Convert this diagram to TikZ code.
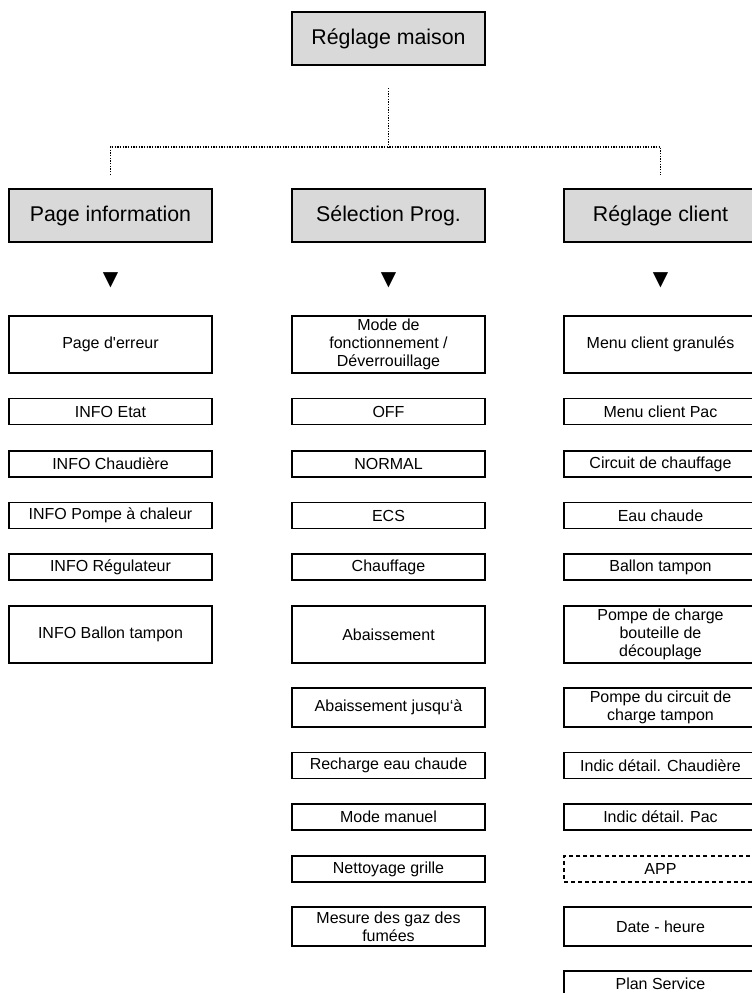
\documentclass[tikz,border=0pt]{standalone}
\usepackage{fontspec}
\setmainfont{Liberation Sans}[Ligatures=TeXOff]
\newfontfamily\trifont{DejaVu Sans}
\definecolor{headgray}{RGB}{217,217,217}
\tikzset{
  head/.style={draw, line width=1.4pt, fill=headgray, minimum width=144.75pt, minimum height=39.75pt, inner sep=0pt, font=\fontsize{16}{19}\selectfont},
  item/.style={draw, line width=1.4pt, minimum width=144.75pt, minimum height=19.5pt, inner sep=0pt, align=center, font=\fontsize{12}{13.5}\selectfont},
  wide/.style={minimum width=152.25pt},
  tall/.style={minimum height=42.75pt},
  twoline/.style={minimum height=29.25pt},
  optional/.style={dash pattern=on 3pt off 2.3pt},
  tree/.style={densely dotted, line width=1pt},
  down/.style={inner sep=0pt, font=\trifont\fontsize{15}{17}\selectfont}
}

\begin{document}
\begin{tikzpicture}[x=0.75pt,y=0.75pt,yscale=-1,xscale=1]
\useasboundingbox (0,0) rectangle (751,993);

%Headers
\node[head] (maison) at (388.5,38.5) {Réglage maison};
\node[head,wide] (info) at (110.5,215.5) {Page information};
\node[head] (prog) at (388.5,215.5) {Sélection Prog.};
\node[head] (client) at (660.5,215.5) {Réglage client};

%Tree
\coordinate (stem) at (388.5,88);
\coordinate (fork) at (388.5,147);
\coordinate (dropL) at (110.5,175);
\coordinate (dropR) at (660.5,175);
\draw[tree] (stem) -- (fork);
\draw[tree] (dropL) |- (fork) -| (dropR);

%Down marks
\node[down] (triInfo) at (110.5,280.5) {▼};
\node[down] (triProg) at (388.5,280.5) {▼};
\node[down] (triClient) at (660.5,280.5) {▼};

%Page information
\node[item,wide,tall] (erreur) at (110.5,344.5) {Page d'erreur};
\node[item,wide] (etat) at (110.5,411.5) {INFO Etat};
\node[item,wide] (chaudiere) at (110.5,464) {INFO Chaudière};
\node[item,wide] (pompe) at (110.5,515.5) {INFO Pompe à chaleur};
\node[item,wide] (regul) at (110.5,567) {INFO Régulateur};
\node[item,wide,tall] (ballon) at (110.5,634.5) {INFO Ballon tampon};

%Sélection Prog.
\node[item,tall] (mode) at (388.5,344.5) {Mode de\\fonctionnement /\\Déverrouillage};
\node[item] (off) at (388.5,411.5) {OFF};
\node[item] (normal) at (388.5,464) {NORMAL};
\node[item] (ecs) at (388.5,515.5) {ECS};
\node[item] (chauffage) at (388.5,567) {Chauffage};
\node[item,tall] (abais) at (388.5,634.5) {Abaissement};
\node[item,twoline] (jusqua) at (388.5,707.5) {Abaissement jusqu‘à};
\node[item] (recharge) at (388.5,765.5) {Recharge eau chaude};
\node[item] (manuel) at (388.5,817) {Mode manuel};
\node[item] (grille) at (388.5,869) {Nettoyage grille};
\node[item,twoline] (fumees) at (388.5,926.5) {Mesure des gaz des\\fumées};

%Réglage client
\node[item,tall] (granules) at (660.5,344.5) {Menu client granulés};
\node[item] (menuPac) at (660.5,411.5) {Menu client Pac};
\node[item] (circuit) at (660.5,464) {Circuit de chauffage};
\node[item] (eau) at (660.5,515.5) {Eau chaude};
\node[item] (tampon) at (660.5,567) {Ballon tampon};
\node[item,tall] (bouteille) at (660.5,634.5) {Pompe de charge\\bouteille de\\découplage};
\node[item,twoline] (charge) at (660.5,707.5) {Pompe du circuit de\\charge tampon};
\node[item] (detChaud) at (660.5,765.5) {Indic détail. Chaudière};
\node[item] (detPac) at (660.5,817) {Indic détail. Pac};
\node[item,optional] (app) at (660.5,869) {APP};
\node[item,twoline] (date) at (660.5,926.5) {Date - heure};
\node[item] (plan) at (660.5,984) {Plan Service};

\end{tikzpicture}
\end{document}
